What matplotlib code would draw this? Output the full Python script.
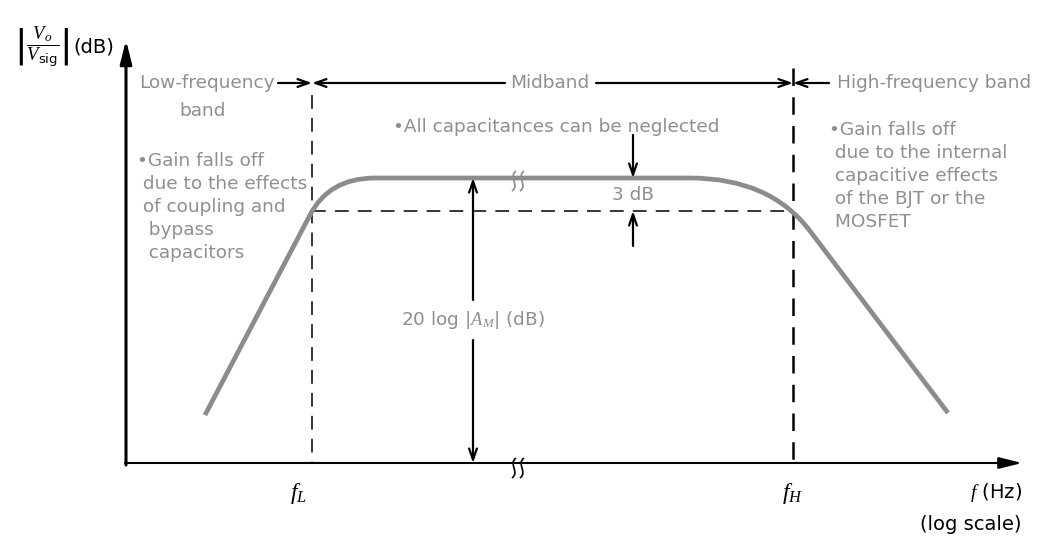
import matplotlib
matplotlib.use("Agg")
import matplotlib.pyplot as plt
from matplotlib.path import Path
from matplotlib.patches import PathPatch

plt.rcParams['font.family'] = ['DejaVu Sans']
plt.rcParams['mathtext.fontset'] = 'custom'
plt.rcParams['mathtext.it'] = 'Liberation Serif:italic'
plt.rcParams['mathtext.rm'] = 'DejaVu Sans'
plt.rcParams['mathtext.sf'] = 'DejaVu Sans'

GRAY = '#8c8c8c'
TXT = '#8f8f8f'

# diagram coordinates (x to the right, y downwards, same scale as the picture)
origin = (126, 463)
x_end = 1022
y_end = 40
f_L = 312
f_H = 793
mid_level = 178      # midband gain
corner_level = 211   # 3 dB below midband

# response curve: straight rise, rounded knee, flat, rounded knee, straight fall
curve_pts = [(205, 415), (310, 215), (329, 178), (375, 178),
             (690, 178), (770, 178), (810, 231), (948, 413)]
curve_codes = [Path.MOVETO, Path.LINETO, Path.CURVE3, Path.CURVE3,
               Path.LINETO, Path.CURVE3, Path.CURVE3, Path.LINETO]

left_note = ["\u2022Gain falls off", " due to the effects", " of coupling and",
             "  bypass", "  capacitors"]
right_note = ["\u2022Gain falls off", " due to the internal", " capacitive effects",
              " of the BJT or the", " MOSFET"]

fig = plt.figure(figsize=(10.52, 5.40), dpi=100)
ax = fig.add_axes([0, 0, 1, 1])
ax.set_xlim(0, 1052)
ax.set_ylim(540, 0)
ax.axis('off')

# axes with filled heads
ax.annotate('', xy=(origin[0], y_end), xytext=(origin[0], origin[1] + 2),
            arrowprops=dict(arrowstyle='-|>,head_length=1.4,head_width=0.35',
                            color='black', lw=2.2, shrinkA=0, shrinkB=0))
ax.annotate('', xy=(x_end, origin[1]), xytext=(origin[0] - 1, origin[1]),
            arrowprops=dict(arrowstyle='-|>,head_length=1.4,head_width=0.35',
                            color='black', lw=1.5, shrinkA=0, shrinkB=0))

# dashed guides
ax.plot([f_L, f_L], [95, origin[1]], color='black', lw=1.1, dashes=(9, 6))
ax.plot([f_H, f_H], [68, origin[1]], color='black', lw=1.8, dashes=(7, 4.5))
ax.plot([f_L, f_H], [corner_level, corner_level], color='black', lw=1.1, dashes=(9, 6))

# response
ax.add_patch(PathPatch(Path(curve_pts, curve_codes), fill=False,
                       edgecolor=GRAY, lw=3.4, capstyle='butt', zorder=3))

arr = dict(arrowstyle='->,head_length=0.8,head_width=0.28', color='black',
           lw=1.6, shrinkA=0, shrinkB=0)

# band arrows
band_y = 83
ax.annotate('', xy=(f_L, band_y), xytext=(278, band_y), arrowprops=arr)
ax.annotate('', xy=(f_L, band_y), xytext=(505, band_y), arrowprops=arr)
ax.annotate('', xy=(f_H, band_y), xytext=(596, band_y), arrowprops=arr)
ax.annotate('', xy=(f_H, band_y), xytext=(829, band_y), arrowprops=arr)

fs = 13.3
ax.text(275, band_y, 'Low-frequency', ha='right', va='center', color=TXT, fontsize=fs)
ax.text(203, 111, 'band', ha='center', va='center', color=TXT, fontsize=fs)
ax.text(550, band_y, 'Midband', ha='center', va='center', color=TXT, fontsize=fs)
ax.text(837, band_y, 'High-frequency band', ha='left', va='center', color=TXT, fontsize=fs)
ax.text(393, 127, '\u2022All capacitances can be neglected', ha='left', va='center',
        color=TXT, fontsize=fs)

for i, s in enumerate(left_note):
    ax.text(137, 161 + 23 * i, s, ha='left', va='center', color=TXT, fontsize=fs)
for i, s in enumerate(right_note):
    ax.text(829, 130 + 23 * i, s, ha='left', va='center', color=TXT, fontsize=fs)

# 20 log |A_M| double arrow
am_x = 473
ax.annotate('', xy=(am_x, mid_level), xytext=(am_x, 300), arrowprops=arr)
ax.annotate('', xy=(am_x, origin[1]), xytext=(am_x, 340), arrowprops=arr)
ax.text(am_x, 320, r'20 log $|A_M|$ (dB)', ha='center', va='center', color=TXT,
        fontsize=fs)

# 3 dB arrows
db_x = 633
ax.annotate('', xy=(db_x, mid_level), xytext=(db_x, 135), arrowprops=arr)
ax.annotate('', xy=(db_x, corner_level), xytext=(db_x, 246), arrowprops=arr)
ax.text(db_x, 195, '3 dB', ha='center', va='center', color=TXT, fontsize=fs)


def squiggle(x, y, color):
    # small S-shaped break mark
    p = Path([(x + 2, y - 10), (x - 6, y - 4), (x + 6, y + 4), (x - 2, y + 10)],
             [Path.MOVETO, Path.CURVE4, Path.CURVE4, Path.CURVE4])
    ax.add_patch(PathPatch(p, fill=False, edgecolor=color, lw=1.2, zorder=4))


for bx in (514, 522):
    squiggle(bx, mid_level + 3, GRAY)
    squiggle(bx, origin[1] + 5, 'black')

# axis labels
ax.text(298, 494, r'$f_L$', ha='center', va='center', fontsize=17)
ax.text(793, 494, r'$f_H$', ha='center', va='center', fontsize=17)
ax.text(1022, 492, r'$f$ (Hz)', ha='right', va='center', fontsize=14)
ax.text(1022, 524, '(log scale)', ha='right', va='center', fontsize=14)
ax.text(14, 47, r'$\left|\dfrac{V_o}{V_{\mathsf{sig}}}\right|$', ha='left',
        va='center', fontsize=13.5)
ax.text(114, 47, '(dB)', ha='right', va='center', fontsize=14)

fig.savefig('out.png', dpi=100)
